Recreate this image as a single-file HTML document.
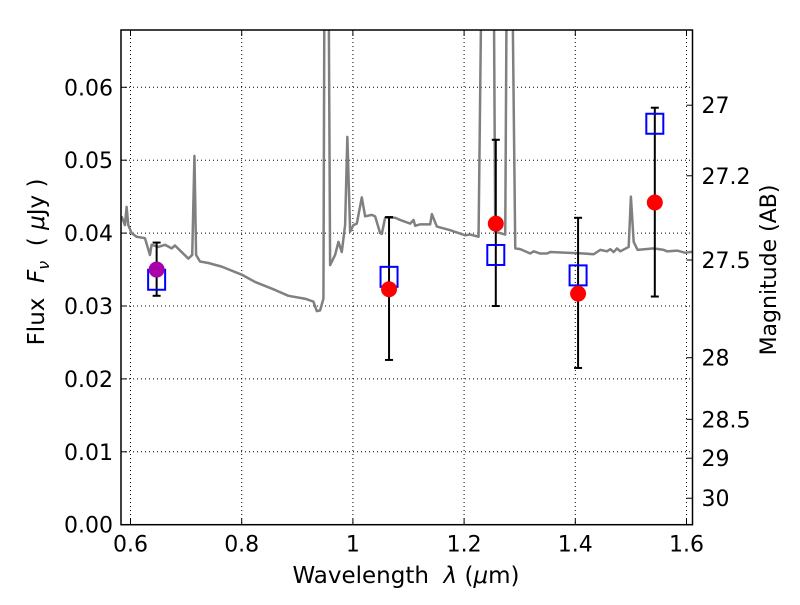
<!DOCTYPE html>
<html><head><meta charset="utf-8"><style>
body{margin:0;background:#fff}
svg text{font-family:"DejaVu Sans","Liberation Sans",sans-serif;fill:#000}
</style></head><body>
<svg id="chart" width="800" height="600" xmlns="http://www.w3.org/2000/svg">
<defs><clipPath id="plotclip"><rect x="121" y="30" width="571.5" height="494.7"/></clipPath></defs>
<g id="grid"></g>
<g id="spec" clip-path="url(#plotclip)"></g>
<g id="pts"></g>
<g id="axes"></g>
<text x="406" y="583" font-size="23" text-anchor="middle" xml:space="preserve">Wavelength  <tspan font-style="italic">λ</tspan> (<tspan font-style="italic">μ</tspan>m)</text>
<text transform="translate(44,262) rotate(-90)" font-size="23" text-anchor="middle" xml:space="preserve">Flux  <tspan font-style="italic">F</tspan><tspan font-style="italic" font-size="16" dy="5">ν</tspan><tspan dy="-5">  ( </tspan><tspan font-style="italic">μ</tspan>Jy )</text>
<text transform="translate(776,270) rotate(-90)" font-size="22" text-anchor="middle">Magnitude (AB)</text>
</svg>
<script>
const xTicks=[0.6,0.8,1.0,1.2,1.4,1.6];
const xTickLabels=["0.6","0.8","1","1.2","1.4","1.6"];
const yTicks=[0,0.01,0.02,0.03,0.04,0.05,0.06];
const yTickLabels=["0.00","0.01","0.02","0.03","0.04","0.05","0.06"];
const magTicks=[27,27.2,27.5,28,28.5,29,30];
const magTickLabels=["27","27.2","27.5","28","28.5","29","30"];
const specLambda=[0.584,0.590,0.593,0.596,0.602,0.611,0.626,0.635,0.638,0.650,0.662,0.674,0.680,0.692,0.704,0.711,0.715,0.718,0.725,0.740,0.764,0.800,0.824,0.860,0.884,0.914,0.929,0.935,0.941,0.947,0.949,0.956,0.959,0.968,0.974,0.980,0.986,0.990,0.995,1.001,1.007,1.016,1.022,1.034,1.040,1.049,1.052,1.058,1.076,1.085,1.103,1.109,1.112,1.121,1.139,1.142,1.151,1.175,1.202,1.211,1.226,1.232,1.253,1.256,1.265,1.274,1.277,1.286,1.292,1.301,1.319,1.325,1.337,1.349,1.355,1.385,1.415,1.433,1.445,1.457,1.463,1.469,1.475,1.481,1.496,1.500,1.505,1.512,1.541,1.559,1.565,1.583,1.598,1.606,1.612];
const specFlux=[0.0423,0.0411,0.0436,0.0411,0.0400,0.0395,0.0393,0.0370,0.0384,0.0381,0.0384,0.0379,0.0383,0.0374,0.0365,0.0370,0.0506,0.0370,0.0361,0.0359,0.0354,0.0343,0.0333,0.0322,0.0314,0.0310,0.0306,0.0293,0.0294,0.0310,0.0800,0.0800,0.0356,0.0370,0.0388,0.0374,0.0411,0.0532,0.0402,0.0411,0.0413,0.0449,0.0423,0.0425,0.0423,0.0400,0.0399,0.0421,0.0421,0.0418,0.0413,0.0418,0.0410,0.0412,0.0412,0.0426,0.0409,0.0404,0.0397,0.0398,0.0395,0.0800,0.0800,0.0402,0.0400,0.0398,0.0800,0.0800,0.0379,0.0378,0.0372,0.0375,0.0372,0.0372,0.0374,0.0373,0.0372,0.0371,0.0377,0.0375,0.0378,0.0374,0.0379,0.0375,0.0381,0.0450,0.0388,0.0377,0.0379,0.0377,0.0375,0.0376,0.0373,0.0374,0.0374];
const bandLambda=[0.647,1.065,1.257,1.405,1.543];
const obsFlux=[0.0350,0.0323,0.0413,0.0317,0.0442];
const modelFlux=[0.0336,0.0340,0.0370,0.0342,0.0550];
const errLow=[0.0314,0.0226,0.0300,0.0215,0.0313];
const errHigh=[0.0387,0.0422,0.0528,0.0421,0.0572];
const pointColors=["#aa00aa","#ff0000","#ff0000","#ff0000","#ff0000"];

const L=121,R=692.5,T=30,B=524.7;
const X=v=>130.5+(v-0.6)*556;
const Y=v=>B-v*7290;
const magToFlux=m=>Math.pow(10,(23.9-m)/2.5);
const NS="http://www.w3.org/2000/svg";
function mk(tag,attrs,parent){const e=document.createElementNS(NS,tag);for(const k in attrs)e.setAttribute(k,attrs[k]);parent.appendChild(e);return e;}
const grid=document.getElementById('grid'),axes=document.getElementById('axes'),spec=document.getElementById('spec'),pts=document.getElementById('pts');

xTicks.forEach((t,i)=>{
  const g=mk('line',{x1:X(t),x2:X(t),y1:T,y2:B,stroke:'#000','stroke-width':1,'stroke-dasharray':'1,3'},grid);
  
  
  mk('line',{x1:X(t),x2:X(t),y1:B,y2:B-6,stroke:'#000'},axes);
  mk('line',{x1:X(t),x2:X(t),y1:T,y2:T+6,stroke:'#000'},axes);
  const tx=mk('text',{x:X(t),y:B+27,'font-size':22,'text-anchor':'middle'},axes);
  tx.textContent=xTickLabels[i];
  
  
});
yTicks.forEach((t,i)=>{
  if(t>0){const g=mk('line',{x1:L,x2:R,y1:Y(t),y2:Y(t),stroke:'#000','stroke-width':1,'stroke-dasharray':'1,3'},grid);
  
  }
  mk('line',{x1:L,x2:L+6,y1:Y(t),y2:Y(t),stroke:'#000'},axes);
  const tx=mk('text',{x:L-8,y:Y(t)+8,'font-size':22,'text-anchor':'end'},axes);
  tx.textContent=yTickLabels[i];
  
  
});
magTicks.forEach((m,i)=>{
  const y=Y(magToFlux(m));
  mk('line',{x1:R-6,x2:R,y1:y,y2:y,stroke:'#000'},axes);
  const tx=mk('text',{x:R+9,y:y+8,'font-size':22},axes);
  tx.textContent=magTickLabels[i];
  
  
});
mk('rect',{x:L,y:T,width:R-L,height:B-T,fill:'none',stroke:'#000','stroke-width':1.5},axes);

const line=mk('polyline',{points:specLambda.map((l,i)=>X(l)+','+Y(specFlux[i])).join(' '),fill:'none',stroke:'#808080','stroke-width':2.5,'stroke-linejoin':'round'},spec);



bandLambda.forEach((l,i)=>{
  const x=X(l);
  const e=mk('g',{},pts);
  
  
  mk('line',{x1:x,x2:x,y1:Y(errLow[i]),y2:Y(errHigh[i]),stroke:'#000','stroke-width':2},e);
  mk('line',{x1:x-4,x2:x+4,y1:Y(errLow[i]),y2:Y(errLow[i]),stroke:'#000','stroke-width':2},e);
  mk('line',{x1:x-4,x2:x+4,y1:Y(errHigh[i]),y2:Y(errHigh[i]),stroke:'#000','stroke-width':2},e);
});
bandLambda.forEach((l,i)=>{
  const x=X(l);
  const s=mk('rect',{x:x-8.5,y:Y(modelFlux[i])-10,width:17,height:20,fill:'none',stroke:'#0000ff','stroke-width':2},pts);
  
  
});
bandLambda.forEach((l,i)=>{
  const x=X(l);
  const c=mk('circle',{cx:x,cy:Y(obsFlux[i]),r:8,fill:pointColors[i]},pts);
  
  
});
</script>
</body></html>
